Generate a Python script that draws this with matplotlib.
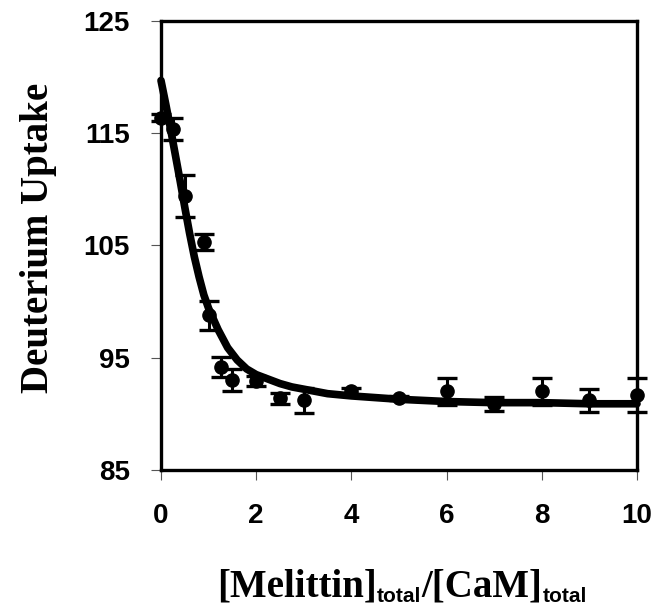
import matplotlib
matplotlib.use("Agg")
import matplotlib.pyplot as plt

# Measured deuterium uptake vs. melittin/CaM ratio
ratio = [0.0, 0.25, 0.5, 0.9, 1.0, 1.25, 1.5, 2.0, 2.5, 3.0, 4.0, 5.0, 6.0, 7.0, 8.0, 9.0, 10.0]
uptake = [116.4, 115.4, 109.4, 105.3, 98.8, 94.2, 93.0, 92.9, 91.4, 91.2, 92.0, 91.4, 92.0, 90.9, 92.0, 91.2, 91.7]
uptake_err = [0.3, 1.0, 1.9, 0.7, 1.3, 0.9, 1.0, 0.45, 0.5, 1.1, 0.3, 0.2, 1.2, 0.6, 1.2, 1.0, 1.5]

# Fitted titration curve
fit_ratio = [0.0, 0.1, 0.2, 0.3, 0.4, 0.5, 0.6, 0.7, 0.8, 0.9, 1.0, 1.2, 1.4, 1.6, 1.8,
             2.0, 2.25, 2.5, 2.75, 3.0, 3.5, 4.0, 5.0, 6.0, 7.0, 8.0, 9.0, 10.0]
fit_uptake = [119.7, 117.6, 115.4, 113.1, 110.8, 108.4, 106.1, 104.0, 102.2, 100.6, 99.4,
              97.5, 95.9, 94.8, 94.0, 93.5, 93.1, 92.7, 92.4, 92.2, 91.8, 91.6, 91.3,
              91.1, 91.0, 91.0, 90.9, 90.9]

x_ticks = [0, 2, 4, 6, 8, 10]
y_ticks = [85, 95, 105, 115, 125]

# x-axis label pieces: (text, is_subscript)
xlabel_parts = [('[Melittin]', False), ('total', True), ('/[CaM]', False), ('total', True)]

fig = plt.figure(figsize=(6.61, 6.08), dpi=100)
ax = fig.add_axes([161 / 661, 1 - 470 / 608, 476 / 661, 449 / 608])

ax.plot(fit_ratio, fit_uptake, color='black', lw=5.5, solid_joinstyle='round',
        solid_capstyle='round', zorder=3, clip_on=False)
ax.errorbar(ratio, uptake, yerr=uptake_err, fmt='o', color='black', ms=9.5,
            elinewidth=2.2, capsize=7, capthick=2.4, zorder=4, clip_on=False)

ax.set_xlim(0, 10)
ax.set_ylim(85, 125)
ax.set_xticks(x_ticks)
ax.set_yticks(y_ticks)
ax.set_xticklabels([str(v) for v in x_ticks], fontfamily='Liberation Sans',
                   fontweight='bold', fontsize=20)
ax.set_yticklabels([str(v) for v in y_ticks], fontfamily='Liberation Sans',
                   fontweight='bold', fontsize=20)
ax.tick_params(axis='both', direction='out', length=7.5, width=0.8, color='#555555')
ax.tick_params(axis='x', pad=16)
ax.tick_params(axis='y', pad=15)
for sp in ax.spines.values():
    sp.set_linewidth(2.4)

ax.set_ylabel('Deuterium Uptake', fontfamily='Liberation Serif', fontweight='bold',
              fontsize=28)
ax.yaxis.set_label_coords((57 - 161) / 476, (470 - 238) / 449)

# Compose the x-axis label from main text and subscripts
renderer = fig.canvas.get_renderer()
W, H = fig.get_size_inches() * fig.dpi
baseline_px = 597
sub_drop = 5
pieces = []
for txt, sub in xlabel_parts:
    if sub:
        t = fig.text(0, 0, txt, fontfamily='Liberation Sans', fontweight='bold',
                     fontsize=15, va='baseline', ha='left')
    else:
        t = fig.text(0, 0, txt, fontfamily='Liberation Serif', fontweight='bold',
                     fontsize=28, va='baseline', ha='left')
    pieces.append((t, sub))
widths = [t.get_window_extent(renderer).width for t, _ in pieces]
total_w = sum(widths)
center_px = 402
x0 = center_px - total_w / 2
for (t, sub), w in zip(pieces, widths):
    y = baseline_px + (sub_drop if sub else 0)
    t.set_position((x0 / W, 1 - y / H))
    x0 += w

fig.savefig('out.png', dpi=100)
